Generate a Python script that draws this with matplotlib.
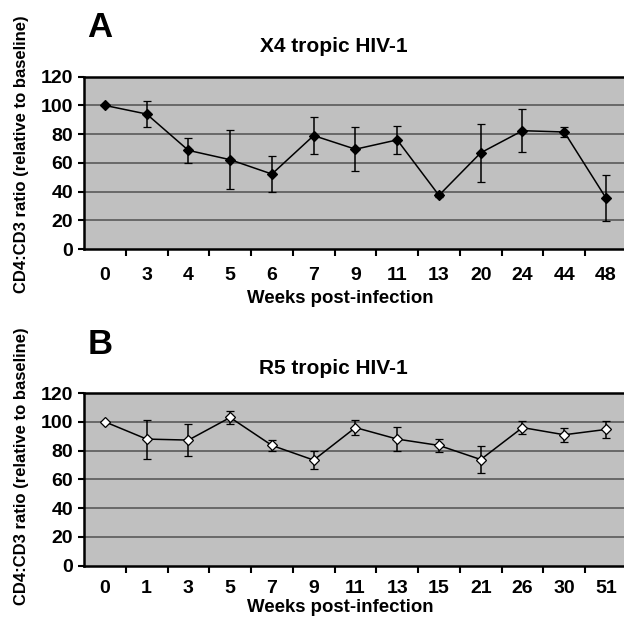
import matplotlib
matplotlib.use('Agg')
import matplotlib.pyplot as plt
import numpy as np

plt.rcParams['font.family'] = ['Liberation Sans', 'DejaVu Sans']
plt.rcParams['font.weight'] = 'bold'

# Panel A: X4 tropic
weeks_a = ['0', '3', '4', '5', '6', '7', '9', '11', '13', '20', '24', '44', '48']
ratio_a = [100, 94, 68.7, 62.2, 52.2, 79, 69.5, 76, 37.4, 67, 82.4, 81.5, 35.5]
err_a = [0, 9, 8.5, 20.7, 12.5, 13, 15.5, 10, 1.5, 20, 15, 3.7, 16.2]

# Panel B: R5 tropic
weeks_b = ['0', '1', '3', '5', '7', '9', '11', '13', '15', '21', '26', '30', '51']
ratio_b = [100, 88, 87.3, 103, 83.6, 73.4, 96, 88, 83.6, 73.8, 96, 91, 94.7]
err_b = [0, 13.5, 11, 4.7, 4, 6.2, 5.2, 8.5, 4.6, 9.4, 4.8, 5, 5.8]

fig = plt.figure(figsize=(6.24, 6.17), dpi=100)


def panel(rect, cats, vals, errs, face, title, letter, title_y, letter_y, xlab_y, ylab_y, xpad):
    ax = fig.add_axes(rect)
    x = np.arange(len(cats))
    ax.set_facecolor('#c0c0c0')
    for v in range(20, 121, 20):
        ax.axhline(v, color='#505050', lw=1.1, zorder=1)
    ax.errorbar(x, vals, yerr=errs, color='black', lw=1.1, elinewidth=1.1,
                capsize=3, capthick=1.1, marker='D', markersize=5,
                markerfacecolor=face, markeredgecolor='black', markeredgewidth=0.9,
                zorder=3)
    ax.set_xlim(-0.5, len(cats) - 0.5)
    ax.set_ylim(0, 120)
    ax.set_yticks(range(0, 121, 20))
    ax.set_xticks(x)
    ax.set_xticklabels(cats)
    ax.set_xticks(np.arange(0.5, len(cats) - 0.5, 1), minor=True)
    ax.tick_params(axis='x', which='major', length=0, pad=xpad, labelsize=14)
    ax.tick_params(axis='x', which='minor', length=5, width=1.5, direction='out')
    ax.tick_params(axis='y', length=4, width=1.5, pad=4, labelsize=14)
    for s in ['top', 'left', 'bottom']:
        ax.spines[s].set_linewidth(1.8)
    ax.spines['right'].set_visible(False)
    fig.text(0.535, title_y, title, ha='center', va='center', fontsize=15, fontweight='bold')
    fig.text(0.14, letter_y, letter, ha='left', va='center', fontsize=25, fontweight='bold')
    fig.text(0.545, xlab_y, 'Weeks post-infection', ha='center', va='center',
             fontsize=13.4, fontweight='bold')
    fig.text(0.035, ylab_y, 'CD4:CD3 ratio (relative to baseline)', rotation=90,
             ha='center', va='center', fontsize=12, fontweight='bold')
    return ax


panel([0.1346, 0.5964, 0.87, 0.2793], weeks_a, ratio_a, err_a, 'black',
      'X4 tropic HIV-1', 'A', 0.924, 0.956, 0.517, 0.75, 13)
panel([0.1346, 0.0831, 0.87, 0.2799], weeks_b, ratio_b, err_b, 'white',
      'R5 tropic HIV-1', 'B', 0.402, 0.442, 0.016, 0.245, 10)

fig.savefig('out.png', dpi=100)
